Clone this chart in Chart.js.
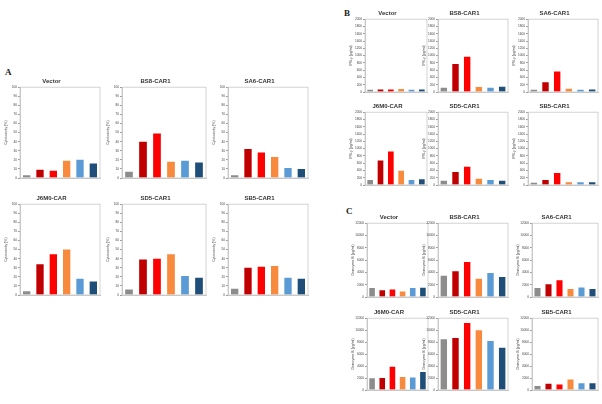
<!DOCTYPE html>
<html>
<head>
<meta charset="utf-8">
<script src="https://cdn.jsdelivr.net/npm/chart.js@4.4.0/dist/chart.umd.min.js"></script>
<style>
  body { margin: 0; background: #fff; width: 602px; height: 404px; position: relative; overflow: hidden; font-family: "Liberation Sans", Arial, sans-serif; }
  .box { position: absolute; }
  .letter { position: absolute; font-family: "Liberation Serif", serif; font-weight: bold; font-size: 9px; color: #222; }
</style>
</head>
<body>
<div class="letter" style="left:5px;top:67px;">A</div>
<div class="letter" style="left:344px;top:8px;">B</div>
<div class="letter" style="left:346px;top:206px;">C</div>

<script>
// categories and colours
const cats = ['Tc', 'Hu1', 'Hu2', 'Rh', 'Mk', 'Rat'];
const barColors = ['#8c8c8c', '#c00000', '#ff0000', '#f78a3c', '#5b9bd5', '#1f4e79'];
const groups = ['Vector', 'BS8-CAR1', 'SA6-CAR1', 'J6M0-CAR', 'SD5-CAR1', 'SB5-CAR1'];

// A: cytotoxicity (%)
const cytoVector = [3, 9, 8, 19, 20, 16];
const cytoBS8 = [7, 40, 49, 18, 19, 17];
const cytoSA6 = [3, 32, 28, 23, 11, 10];
const cytoJ6M0 = [4, 34, 45, 50, 18, 15];
const cytoSD5 = [6, 39, 40, 45, 21, 19];
const cytoSB5 = [7, 30, 31, 32, 19, 18];

// B: IFN-γ (pg/ml)
const ifnVector = [60, 70, 70, 80, 60, 70];
const ifnBS8 = [120, 770, 970, 140, 120, 145];
const ifnSA6 = [65, 270, 560, 90, 65, 70];
const ifnJ6M0 = [140, 670, 920, 390, 140, 160];
const ifnSD5 = [120, 360, 500, 175, 140, 120];
const ifnSB5 = [65, 140, 330, 75, 75, 75];

// C: Granzyme B (pg/ml)
const gzbVector = [1450, 1100, 1230, 900, 1450, 1500];
const gzbBS8 = [3460, 4200, 5700, 2960, 3900, 3240];
const gzbSA6 = [1450, 2070, 2730, 1290, 1560, 1290];
const gzbJ6M0 = [1950, 2010, 3900, 2180, 2070, 3010];
const gzbSD5 = [8500, 8700, 11200, 9980, 8200, 7060];
const gzbSB5 = [670, 1060, 900, 1740, 1120, 1120];

// grey box round the plot area
const frame = {
  id: 'frame',
  afterDraw(chart) {
    const a = chart.chartArea, c = chart.ctx;
    c.save();
    c.strokeStyle = '#c8c8c8';
    c.lineWidth = 0.8;
    c.strokeRect(a.left, a.top, a.right - a.left, a.bottom - a.top);
    c.restore();
  }
};

const titleH = 9, xH = 8, yW = 17;

function mk(title, data, axisX, rightX, top, bottom, yMax, yStep, yLabel) {
  const div = document.createElement('div');
  div.className = 'box';
  const left = axisX - yW;
  div.style.left = left + 'px';
  div.style.top = (top - titleH) + 'px';
  div.style.width = (rightX - left + 1) + 'px';
  div.style.height = ((bottom - top) + titleH + xH) + 'px';
  const cv = document.createElement('canvas');
  div.appendChild(cv);
  document.body.appendChild(div);

  new Chart(cv, {
    type: 'bar',
    data: {
      labels: cats,
      datasets: [{ data: data, backgroundColor: barColors, barPercentage: 0.55, categoryPercentage: 1 }]
    },
    options: {
      responsive: true,
      maintainAspectRatio: false,
      animation: false,
      layout: { padding: { right: 1, left: 0, top: 0, bottom: 0 } },
      plugins: {
        legend: { display: false },
        tooltip: { enabled: false },
        title: {
          display: true, text: title, color: '#333',
          font: { size: 6, weight: 'bold', family: 'Liberation Sans' },
          padding: { top: 0, bottom: 2 }
        }
      },
      scales: {
        x: {
          grid: { display: false },
          border: { color: '#c8c8c8' },
          ticks: { color: '#444', font: { size: 3.5 }, padding: 1, maxRotation: 0 },
          afterFit(s) { s.height = xH; }
        },
        y: {
          min: 0, max: yMax,
          grid: { drawOnChartArea: false, tickLength: 2, color: '#999' },
          border: { color: '#c8c8c8' },
          ticks: { stepSize: yStep, color: '#444', font: { size: 3.2 }, padding: 1, callback: v => String(v) },
          title: { display: true, text: yLabel, color: '#444', font: { size: 3.5 }, padding: 1 },
          afterFit(s) { s.width = yW; }
        }
      }
    },
    plugins: [frame]
  });
}

const cytoL = 'Cytotoxicity (%)';
const ifnL = 'IFN-γ (pg/ml)';
const gzbL = 'Granzyme B (pg/ml)';

// panel A
mk(groups[0], cytoVector, 20, 100, 87, 178, 100, 10, cytoL);
mk(groups[1], cytoBS8, 122, 206, 87, 178, 100, 10, cytoL);
mk(groups[2], cytoSA6, 228, 308, 87, 178, 100, 10, cytoL);
mk(groups[3], cytoJ6M0, 20, 100, 204, 295, 100, 10, cytoL);
mk(groups[4], cytoSD5, 122, 206, 204, 295, 100, 10, cytoL);
mk(groups[5], cytoSB5, 228, 308, 204, 295, 100, 10, cytoL);

// panel B
mk(groups[0], ifnVector, 365, 427, 19, 92, 2000, 200, ifnL);
mk(groups[1], ifnBS8, 438, 508, 19, 92, 2000, 200, ifnL);
mk(groups[2], ifnSA6, 528, 598, 19, 92, 2000, 200, ifnL);
mk(groups[3], ifnJ6M0, 365, 427, 112, 185, 2000, 200, ifnL);
mk(groups[4], ifnSD5, 438, 508, 112, 185, 2000, 200, ifnL);
mk(groups[5], ifnSB5, 528, 598, 112, 185, 2000, 200, ifnL);

// panel C
mk(groups[0], gzbVector, 367, 428, 223, 297, 12000, 2000, gzbL);
mk(groups[1], gzbBS8, 438, 508, 223, 297, 12000, 2000, gzbL);
mk(groups[2], gzbSA6, 532, 598, 223, 297, 12000, 2000, gzbL);
mk(groups[3], gzbJ6M0, 367, 428, 318, 390, 12000, 2000, gzbL);
mk(groups[4], gzbSD5, 438, 508, 318, 390, 12000, 2000, gzbL);
mk(groups[5], gzbSB5, 532, 598, 318, 390, 12000, 2000, gzbL);
</script>
</body>
</html>
